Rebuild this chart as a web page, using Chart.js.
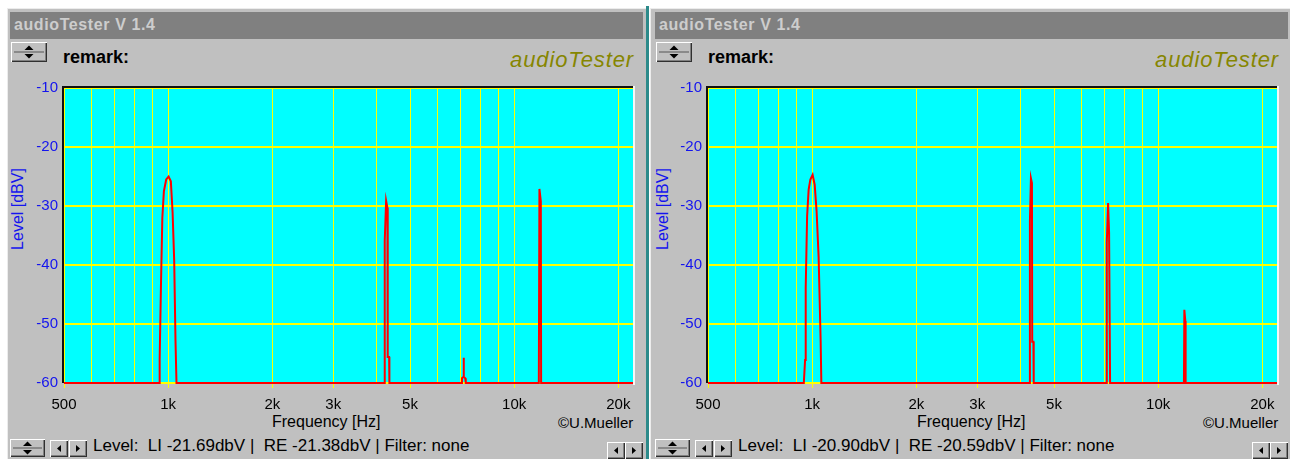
<!DOCTYPE html>
<html>
<head>
<meta charset="utf-8">
<script src="https://cdn.jsdelivr.net/npm/chart.js@4.4.1/dist/chart.umd.min.js"></script>
<style>
  html, body { margin: 0; padding: 0; background: #ffffff; }
  body { width: 1290px; height: 459px; position: relative; overflow: hidden;
         font-family: "Liberation Sans", Arial, sans-serif; }
  .abs { position: absolute; }
  .win { background: #c0c0c0; box-shadow: inset 1px 1px #ececec; }
  .titlebar { background: #808080; }
  .titletext { font-weight: bold; font-size: 16px; letter-spacing: 0.6px; color: #cdcdcd; white-space: nowrap; line-height: normal; }
  .remark { font-weight: bold; font-size: 18px; color: #000; line-height: normal; }
  .logo { font-style: italic; font-size: 22px; letter-spacing: 0.9px; color: #868600; line-height: normal; }
  .ytitle { font-size: 16px; color: #1414ee; white-space: nowrap; transform: translate(-50%, -50%) rotate(-90deg); line-height: normal; }
  .xtitle { font-size: 16px; color: #000; white-space: nowrap; line-height: normal; }
  .copy { font-size: 15px; color: #000; white-space: nowrap; line-height: normal; }
  .status { font-size: 17px; color: #000; white-space: pre; line-height: normal; }
  .btn { background: #c0c0c0;
         box-shadow: inset 1px 1px #ffffff, inset -1px -1px #303030, inset -2px -2px #808080; }
  .btn svg { display: block; }
  .divider { background: #2c8a8a; }
  canvas { position: absolute; }
</style>
</head>
<body>
<script>
// ---- spectrum data (frequency in Hz, level in dBV) ----
const leftFreq  = [500, 942, 945, 953, 962, 972, 987, 1003, 1018, 1030, 1041, 1050, 1057,
                   4217, 4226, 4265, 4302, 4311, 4351, 4359,
                   7047, 7066, 7127, 7141, 7160, 7222, 7246,
                   11783, 11830, 11940, 11964, 22050];
const leftLevel = [-60, -60, -56.0, -43.8, -32.0, -27.5, -25.5, -25.0, -25.8, -31.1, -39.3, -52.8, -60,
                   -60, -35.9, -29.1, -30.3, -55.6, -55.6, -60,
                   -60, -59.2, -59.0, -55.7, -59.0, -59.2, -60,
                   -60, -27.1, -29.2, -60, -60];

const rightFreq  = [500, 946, 954, 958, 967, 977, 988, 1003, 1017, 1030, 1044, 1058, 1063,
                    4251, 4259, 4288, 4317, 4325, 4359, 4368,
                    7071, 7104, 7166, 7213, 7261,
                    11870, 11902, 11981, 12005, 22050];
const rightLevel = [-60, -60, -56.1, -43.8, -31.7, -27.2, -25.5, -24.7, -26.4, -30.9, -38.7, -52.8, -60,
                    -60, -32.6, -25.3, -26.1, -53.0, -53.0, -60,
                    -60, -36.2, -29.5, -34.5, -60,
                    -60, -47.6, -49.5, -60, -60];

// ---- axes ----
const freqMin = 500;
const freqMax = 22050;
const freqGrid = [500, 600, 700, 800, 900, 1000, 2000, 3000, 4000, 5000, 6000, 7000, 8000, 9000, 10000, 20000, 22050];
const freqTickValues = [500, 1000, 2000, 3000, 5000, 10000, 20000];
const freqTickLabels = ['500', '1k', '2k', '3k', '5k', '10k', '20k'];
const levelTicks = [-60, -50, -40, -30, -20, -10];

// ---- status line readings ----
const leftStatus  = 'Level:  LI -21.69dbV |  RE -21.38dbV | Filter: none';
const rightStatus = 'Level:  LI -20.90dbV |  RE -20.59dbV | Filter: none';

// ---- window chrome ----
function el(cls, style, html) {
  const d = document.createElement('div');
  d.className = 'abs ' + cls;
  d.setAttribute('style', style);
  if (html !== undefined) d.innerHTML = html;
  document.body.appendChild(d);
  return d;
}
const spinSvg = (w, h) => `<svg width="${w}" height="${h}">
  <polygon points="${w/2-4.5},${h/2-2} ${w/2+4.5},${h/2-2} ${w/2},${h/2-6.5}" fill="#000"/>
  <line x1="3" y1="${h/2}" x2="${w-3}" y2="${h/2}" stroke="#555" stroke-width="1"/>
  <polygon points="${w/2-4.5},${h/2+2} ${w/2+4.5},${h/2+2} ${w/2},${h/2+6.5}" fill="#000"/></svg>`;
const leftArrow  = `<svg width="18" height="17"><polygon points="11,5 11,12 7,8.5" fill="#000"/></svg>`;
const rightArrow = `<svg width="18" height="17"><polygon points="7,5 7,12 11,8.5" fill="#000"/></svg>`;

function buildPanel(dx, winLeft, winWidth, status) {
  el('win', `left:${winLeft}px;top:8px;width:${winWidth}px;height:460px;`);
  el('titlebar', `left:${dx + 10}px;top:12px;width:633px;height:27px;`);
  el('titletext', `left:${dx + 14}px;top:16px;`, 'audioTester V 1.4');
  el('btn', `left:${dx + 11}px;top:42px;width:36px;height:20px;`, spinSvg(36, 20));
  el('remark', `left:${dx + 63}px;top:47px;`, 'remark:');
  el('logo', `left:${dx + 510}px;top:47px;`, 'audioTester');
  el('ytitle', `left:${dx + 18}px;top:209px;`, 'Level [dBV]');
  el('xtitle', `left:${dx + 272}px;top:413px;`, 'Frequency [Hz]');
  el('copy', `left:${dx + 558}px;top:414px;`, '©U.Mueller');
  el('btn', `left:${dx + 10}px;top:439px;width:35px;height:18px;`, spinSvg(35, 18));
  el('btn', `left:${dx + 50}px;top:440px;width:18px;height:17px;`, leftArrow);
  el('btn', `left:${dx + 69}px;top:440px;width:18px;height:17px;`, rightArrow);
  el('status', `left:${dx + 93}px;top:436px;`, status);
  el('btn', `left:${dx + 607}px;top:442px;width:18px;height:17px;`, leftArrow);
  el('btn', `left:${dx + 625}px;top:442px;width:18px;height:17px;`, rightArrow);
}

buildPanel(0, 7, 639, leftStatus);
buildPanel(645, 650, 640, rightStatus);
el('divider', 'left:646px;top:6px;width:3px;height:460px;');

// ---- plot panel: cyan field with a sunken frame ----
const plotFrame = {
  id: 'plotFrame',
  beforeDraw(chart) {
    const { ctx, chartArea: a } = chart;
    ctx.save();
    ctx.fillStyle = '#00ffff';
    ctx.fillRect(a.left, a.top, a.right - a.left, a.bottom - a.top);
    ctx.restore();
  },
  afterDraw(chart) {
    const { ctx, chartArea: a } = chart;
    ctx.save();
    ctx.fillStyle = '#111111';
    ctx.fillRect(a.left - 2, a.top - 2, a.right - a.left + 2, 2);
    ctx.fillRect(a.left - 2, a.top - 2, 2, a.bottom - a.top + 2);
    ctx.fillStyle = '#f6f6f6';
    ctx.fillRect(a.right, a.top - 2, 2, a.bottom - a.top + 4);
    ctx.restore();
  }
};

function makeChart(left, freqs, levels) {
  const cv = document.createElement('canvas');
  cv.width = 645; cv.height = 353;
  cv.style.left = left + 'px';
  cv.style.top = '73px';
  document.body.appendChild(cv);

  const points = freqs.map((f, i) => ({ x: f, y: levels[i] }));

  return new Chart(cv, {
    type: 'line',
    data: {
      datasets: [{
        data: points,
        borderColor: '#ff0000',
        borderWidth: 2,
        pointRadius: 0,
        tension: 0,
        fill: false,
        clip: false
      }]
    },
    options: {
      responsive: false,
      animation: false,
      devicePixelRatio: 1,
      layout: { padding: { top: 13, right: 12, left: 0, bottom: 0 } },
      plugins: { legend: { display: false }, tooltip: { enabled: false } },
      scales: {
        x: {
          type: 'logarithmic',
          min: freqMin,
          max: freqMax,
          afterBuildTicks: (axis) => { axis.ticks = freqGrid.map(v => ({ value: v })); },
          afterFit: (axis) => { axis.height = 43; },
          border: { display: false },
          grid: {
            color: '#ffff00',
            lineWidth: 1,
            drawTicks: true,
            tickLength: 5,
            tickColor: (c) => (c.tick && freqTickValues.includes(c.tick.value)) ? '#ffff00' : 'rgba(0,0,0,0)'
          },
          ticks: {
            autoSkip: false,
            maxRotation: 0,
            minRotation: 0,
            padding: 8,
            color: '#000000',
            font: { family: 'Liberation Sans', size: 15 },
            callback: (v) => {
              const k = freqTickValues.indexOf(v);
              return k >= 0 ? freqTickLabels[k] : '';
            }
          }
        },
        y: {
          min: -60,
          max: -10,
          afterBuildTicks: (axis) => { axis.ticks = levelTicks.map(v => ({ value: v })); },
          afterFit: (axis) => { axis.width = 64; },
          border: { display: false },
          grid: { color: '#ffff00', lineWidth: 2, drawTicks: false },
          ticks: {
            padding: 6,
            color: '#1414ee',
            font: { family: 'Liberation Sans', size: 15 },
            callback: (v) => String(v)
          }
        }
      }
    },
    plugins: [plotFrame]
  });
}

makeChart(0, leftFreq, leftLevel);
makeChart(644, rightFreq, rightLevel);
</script>
</body>
</html>
